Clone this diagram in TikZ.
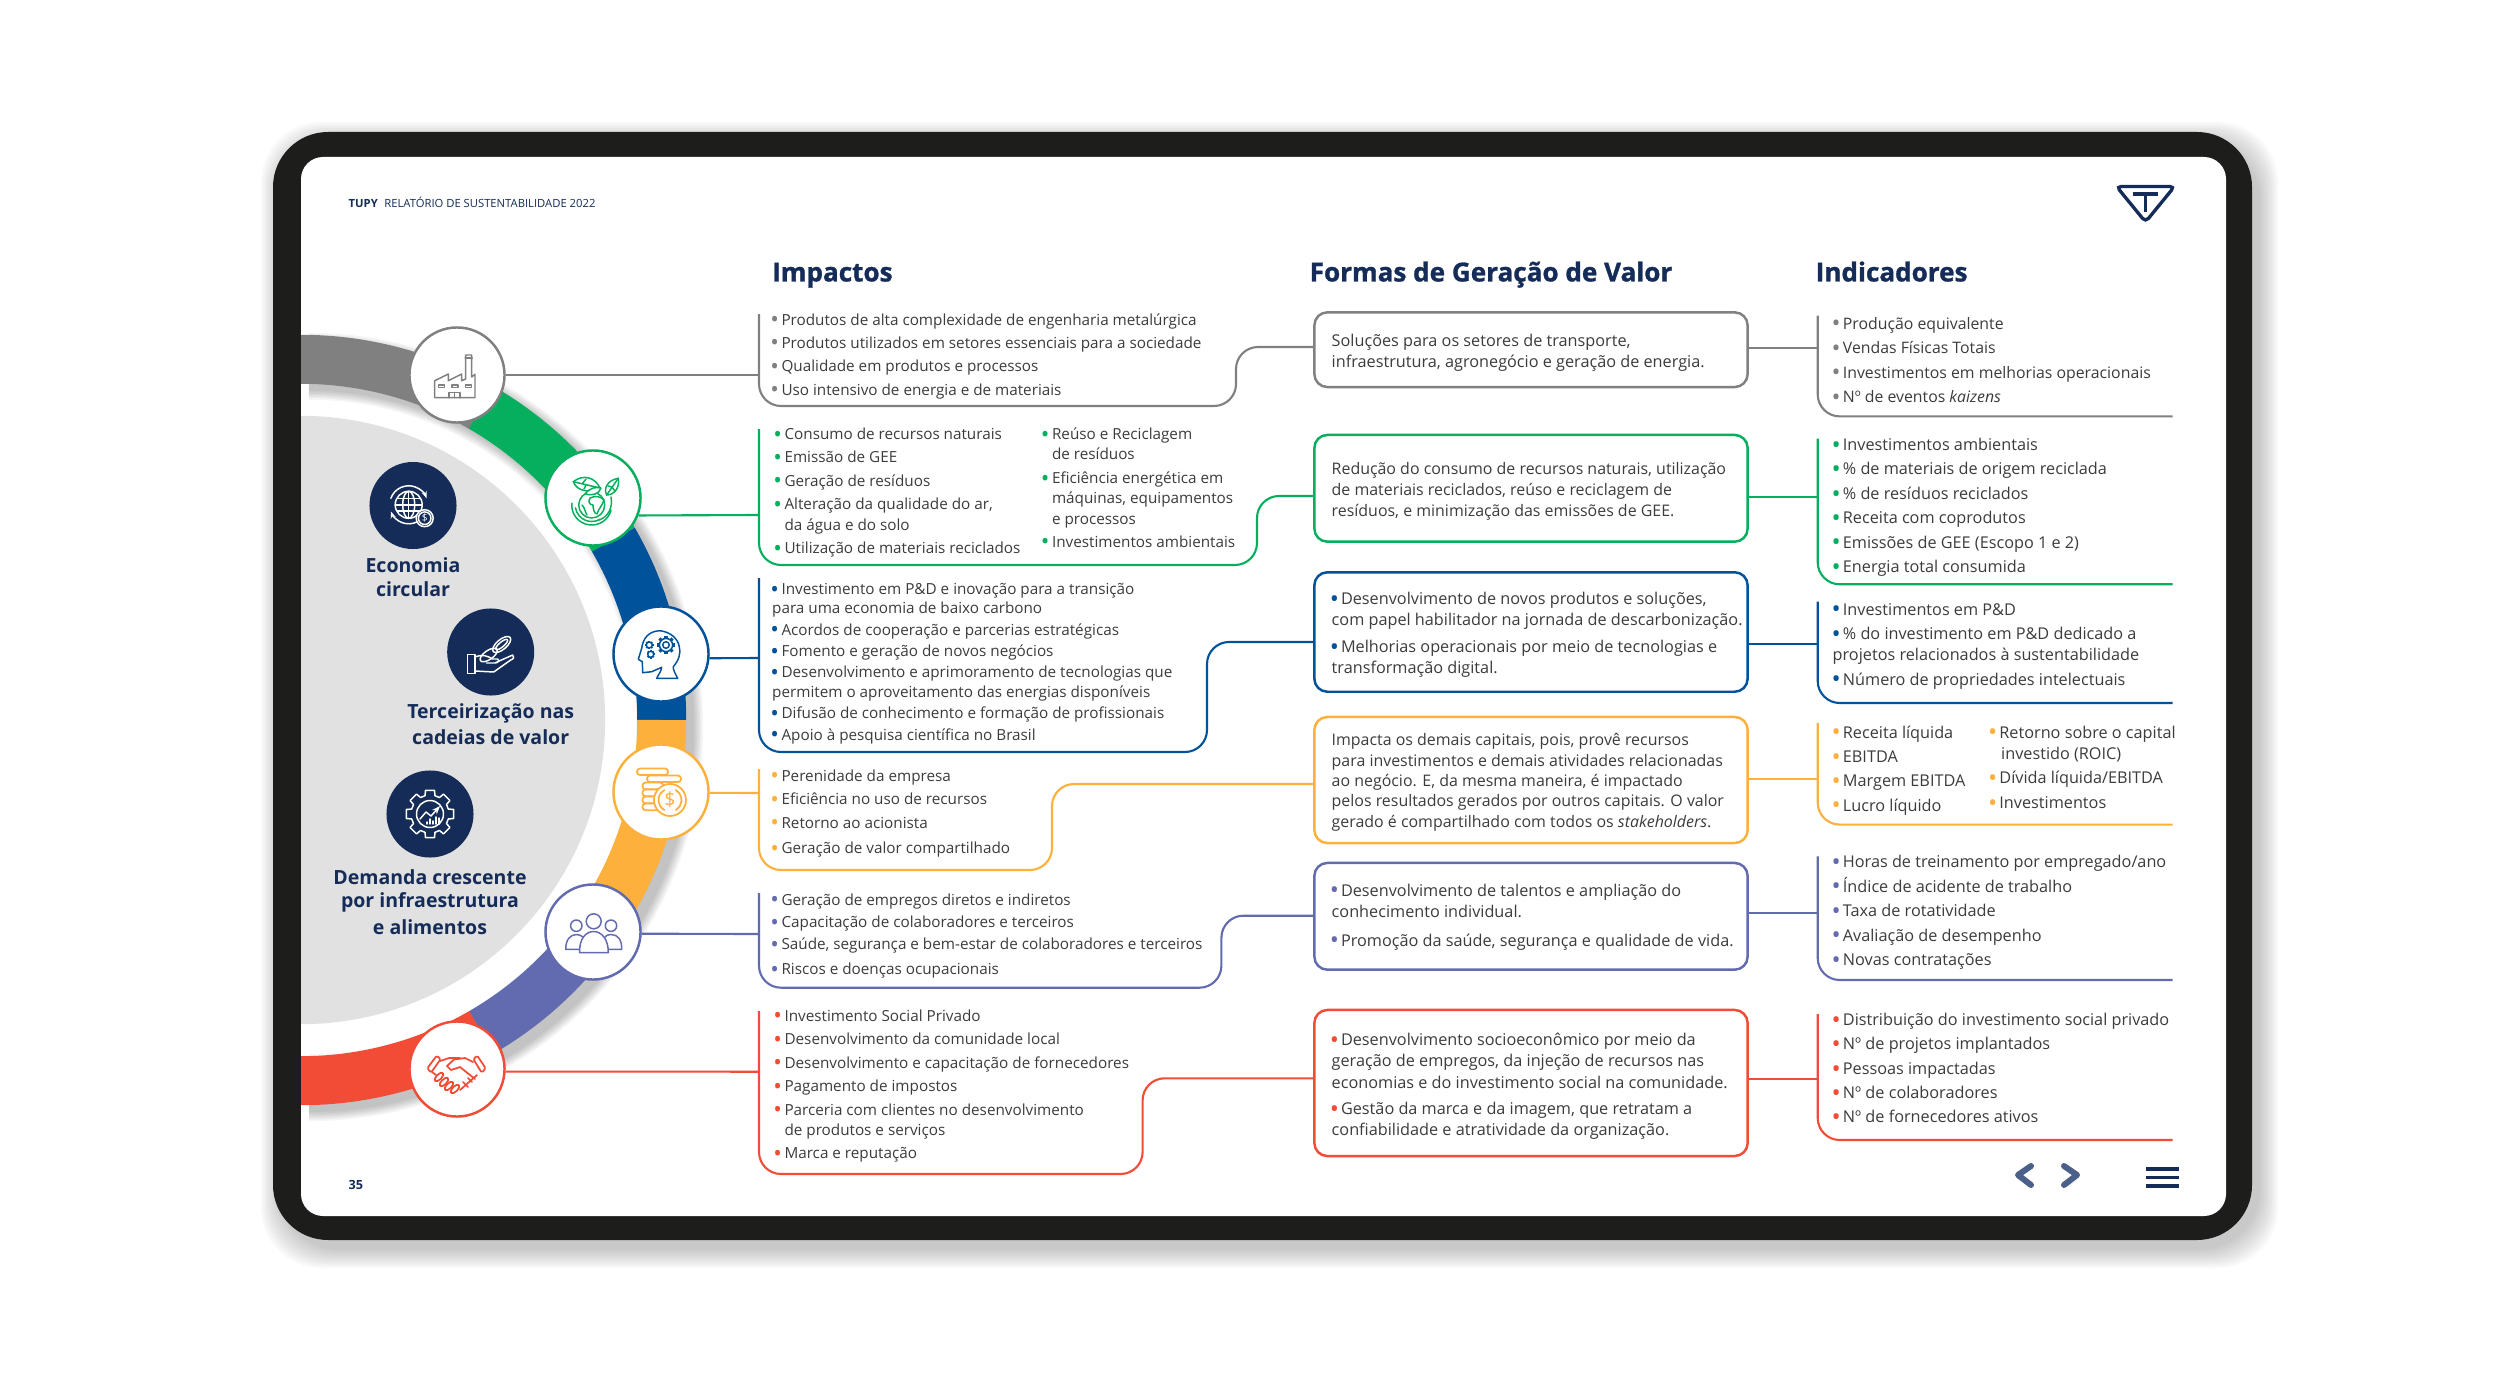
\documentclass[tikz,border=0pt]{standalone}
\usepackage{fontspec}
\setmainfont{Open Sans}
\newfontfamily\headfont[BoldFeatures={FakeBold=1.1}]{Open Sans}
\usetikzlibrary{arrows.meta, positioning, calc}

\newcommand{\bdot}{\textcolor{\rowcol}{\raisebox{-0.17em}{\scalebox{1.5}{•}}}}
\newcommand{\bl}{\makebox[2.65pt][l]{\hspace*{-0.55pt}\bdot}}
\newcommand{\bi}{\makebox[2.9pt][l]{\hspace*{-0.3pt}\bdot}}
\newcommand{\cog}[4]{%
  \begin{scope}[shift={(#1,#2)}]
    \draw circle[radius=#3];
    \foreach \a in {0,45,...,315} {
      \draw[line width=#4,line cap=butt] (\a:#3) -- (\a:#3*1.4);
    }
  \end{scope}}

\begin{document}
\begin{tikzpicture}[x=0.01cm,y=-0.01cm,>=Stealth,
  listline/.style={anchor=mid west, inner sep=0pt, text=bodytext, yshift=0.03cm},
  impline/.style={listline, font=\fontsize{4.34}{5}\selectfont},
  boxline/.style={listline, font=\fontsize{4.53}{5}\selectfont},
  boxwide/.style={listline, font=\fontsize{4.62}{5}\selectfont},
  indline/.style={listline, font=\fontsize{4.62}{5}\selectfont},
  indnarrow/.style={listline, font=\fontsize{4.5}{5}\selectfont},
  headline/.style={anchor=mid west, inner sep=0pt, text=navy, font=\fontsize{7.42}{9}\headfont\bfseries\selectfont},
  sidelabel/.style={inner sep=0pt, text=navy, font=\fontsize{5.55}{7}\bfseries\selectfont},
  iconring/.style={circle, fill=white, minimum size=0.95cm, inner sep=0pt, line width=0.7pt},
  navydisc/.style={circle, fill=navy, minimum size=0.87cm, inner sep=0pt},
  valuebox/.style={rectangle, fill=white, rounded corners=0.13cm, inner sep=0pt, line width=0.7pt},
  bracket/.style={rounded corners=0.22cm, line width=0.6pt},
  iconline/.style={line width=0.42pt, line join=round, line cap=round},
  navline/.style={line width=1.7pt, line cap=round, line join=round}
]

% Colors
\definecolor{navy}{RGB}{21,44,88}
\definecolor{bodytext}{RGB}{60,60,60}
\definecolor{framedark}{RGB}{29,29,27}
\definecolor{discgray}{RGB}{225,225,225}
\definecolor{rowgray}{RGB}{128,128,128}
\definecolor{rowgreen}{RGB}{5,175,93}
\definecolor{rowblue}{RGB}{0,82,155}
\definecolor{roworange}{RGB}{253,176,59}
\definecolor{rowpurple}{RGB}{99,107,176}
\definecolor{rowred}{RGB}{242,76,55}
\definecolor{navarrow}{RGB}{74,96,137}

\useasboundingbox (0,0) rectangle (2500,1373);

% Tablet frame
\foreach \g in {19,17,...,1} {
    \fill[black,opacity=0.022,rounded corners=0.6cm] (273+7-\g,132+9-\g) rectangle (2252+7+\g,1240+9+\g);
}
\fill[framedark,rounded corners=0.55cm] (273,132) rectangle (2252,1240);
\fill[white,rounded corners=0.22cm] (301,157) rectangle (2226,1216);

% Ring and disc
\coordinate (ringc) at (301,720);
\begin{scope}
\clip[rounded corners=0.22cm] (301,157) rectangle (2226,1216);
\foreach \g in {18,15,...,0} {
    \draw[black,opacity=0.035,line width=(49+\g)*0.2845pt] ($(ringc)+(8,7)$) ++(90:3.605cm) arc[start angle=90,end angle=-90,radius=3.605cm];
}
\foreach \c/\s/\e in {rowgray/90/60,rowgreen/60/30,rowblue/30/0,roworange/0/-30,rowpurple/-30/-60,rowred/-60/-90} {
    \draw[\c,line width=13.94pt] (ringc) ++(\s:3.605cm) arc[start angle=\s,end angle=\e,radius=3.605cm];
}
\fill[discgray] (ringc) circle[radius=3.04cm];
\end{scope}

% Icon rings
\node[iconring, draw=rowgray] (iconA) at (457,375) {};
\node[iconring, draw=rowgreen] (iconB) at (593,498) {};
\node[iconring, draw=rowblue] (iconC) at (661,654) {};
\node[iconring, draw=roworange] (iconD) at (661,792) {};
\node[iconring, draw=rowpurple] (iconE) at (593,932) {};
\node[iconring, draw=rowred] (iconF) at (457,1069) {};

% Side discs
\node[navydisc] (discA) at (413,505.5) {};
\node[navydisc] (discB) at (490.7,652) {};
\node[navydisc] (discC) at (430,814) {};
\node[sidelabel] (sideA1) at (413,565) {Economia};
\node[sidelabel] (sideA2) at (413,589) {circular};
\node[sidelabel] (sideB1) at (490.7,713) {Terceirização nas};
\node[sidelabel] (sideB2) at (490.7,737) {cadeias de valor};
\node[sidelabel] (sideC1) at (430,877) {Demanda crescente};
\node[sidelabel] (sideC2) at (430,902) {por infraestrutura};
\node[sidelabel] (sideC3) at (430,926.7) {e alimentos};

% Header and footer
\node[anchor=mid west,inner sep=0pt,text=navy,font=\fontsize{3.2}{4}\bfseries\selectfont] (brand) at (348,198.5) {TUPY};
\node[anchor=mid west,inner sep=0pt,text=navy,font=\fontsize{3.2}{4}\selectfont] (report) at (383.7,198.5) {RELATÓRIO DE SUSTENTABILIDADE 2022};
\node[anchor=mid west,inner sep=0pt,text=navy,font=\fontsize{3.6}{4}\bfseries\selectfont] (pagenum) at (348,1180) {35};
\node[headline] (headA) at (771.5,272) {Impactos};
\node[headline] (headB) at (1309,272) {Formas de Geração de Valor};
\node[headline] (headC) at (1815,272) {Indicadores};

% Logo and navigation
\draw[navy,line width=0.95pt,rounded corners=0.045cm] (2116.5,186.5) -- (2174.5,186.5) -- (2145.5,222) -- cycle;
\draw[navy,line width=0.95pt] (2132.7,194) -- (2158,194) (2145.3,194) -- (2145.3,212);
\draw[navarrow,navline] (2031,1166) -- (2018,1175) -- (2031,1185);
\draw[navarrow,navline] (2064,1166) -- (2077,1175) -- (2064,1185);
\foreach \y in {1169,1177.5,1186} {
    \draw[navy,line width=1pt] (2146,\y) -- (2179,\y);
}

% Value boxes
\node[valuebox, draw=rowgray, minimum width=4.33cm, minimum height=0.747cm] (boxA) at (1531,349.7) {};
\node[valuebox, draw=rowgreen, minimum width=4.33cm, minimum height=1.067cm] (boxB) at (1531,488.3) {};
\node[valuebox, draw=rowblue, minimum width=4.33cm, minimum height=1.194cm] (boxC) at (1531,632) {};
\node[valuebox, draw=roworange, minimum width=4.33cm, minimum height=1.26cm] (boxD) at (1531,780) {};
\node[valuebox, draw=rowpurple, minimum width=4.33cm, minimum height=1.067cm] (boxE) at (1531,916.3) {};
\node[valuebox, draw=rowred, minimum width=4.33cm, minimum height=1.46cm] (boxF) at (1531,1083) {};

% Junctions
\foreach \n/\y in {A/375,B/515,C/658,D/793,E/934,F/1071.7} {
    \coordinate (br\n) at (759,\y);
}
\foreach \n/\x/\y in {A/1236/347,B/1257/496,C/1207/642,D/1052/784,E/1221.4/915.7,F/1142.6/1078.3} {
    \coordinate (jog\n) at (\x,\y);
}
\foreach \n/\y in {A/348.3,B/496.7,C/644,D/779.3,E/913.3,F/1078.6} {
    \coordinate (ind\n) at (1817.7,\y);
}

% Connections: icon -> impacts
\draw[rowgray,bracket] (iconA.east) -- (brA);
\draw[rowgreen,bracket] (iconB.-21) -- (brB);
\draw[rowblue,bracket] (iconC.-5) -- (brC);
\draw[roworange,bracket] (iconD.-1) -- (brD);
\draw[rowpurple,bracket] (iconE.-2) -- (brE);
\draw[rowred,bracket] (iconF.-3) -- (brF);

% Connections: impacts -> boxes
\draw[rowgray,bracket] (759,314) -- (759,406) -- (1236,406) -- (jogA) -- (boxA.west |- jogA);
\draw[rowgreen,bracket] (759,429) -- (759,565) -- (1257,565) -- (jogB) -- (boxB.west |- jogB);
\draw[rowblue,bracket] (759,578) -- (759,752) -- (1207,752) -- (jogC) -- (boxC.west |- jogC);
\draw[roworange,bracket] (759,769) -- (759,870) -- (1052,870) -- (jogD) -- (boxD.west |- jogD);
\draw[rowpurple,bracket] (759,893) -- (759,987.7) -- (1221.4,987.7) -- (jogE) -- (boxE.west |- jogE);
\draw[rowred,bracket] (759,1011) -- (759,1174) -- (1142.6,1174) -- (jogF) -- (boxF.west |- jogF);

% Connections: boxes -> indicators
\foreach \n/\c in {A/rowgray,B/rowgreen,C/rowblue,D/roworange,E/rowpurple,F/rowred} {
    \draw[\c,bracket] (box\n.east |- ind\n) -- (ind\n);
}
\draw[rowgray,bracket] (1817.7,315.7) -- (1817.7,416.4) -- (2172.7,416.4);
\draw[rowgreen,bracket] (1817.7,438.6) -- (1817.7,584.3) -- (2172.7,584.3);
\draw[rowblue,bracket] (1817.7,601.7) -- (1817.7,703) -- (2172.7,703);
\draw[roworange,bracket] (1817.7,723) -- (1817.7,824.6) -- (2172.7,824.6);
\draw[rowpurple,bracket] (1817.7,856.4) -- (1817.7,980) -- (2172.7,980);
\draw[rowred,bracket] (1817.7,1014) -- (1817.7,1140) -- (2172.7,1140);

% Gray row
\def\rowcol{rowgray}
\foreach \i/\y/\t in {1/318.7/{Produtos de alta complexidade de engenharia metalúrgica},
    2/341.7/{Produtos utilizados em setores essenciais para a sociedade},
    3/365.3/{Qualidade em produtos e processos},
    4/388.7/{Uso intensivo de energia e de materiais}} {
    \node[impline] (impA\i) at (771.5,\y) {\bl\t};
}
\node[boxwide] (valA1) at (1331,340) {Soluções para os setores de transporte,};
\node[boxwide] (valA2) at (1331,361.3) {infraestrutura, agronegócio e geração de energia.};
\foreach \i/\y/\t in {1/322.8/{Produção equivalente},2/347.2/{Vendas Físicas Totais},
    3/371.6/{Investimentos em melhorias operacionais},4/396/{Nº de eventos \textit{kaizens}}} {
    \node[indnarrow] (indA\i) at (1832,\y) {\bi\t};
}

% Green row
\def\rowcol{rowgreen}
\foreach \i/\y/\t in {1/433/{\bl Consumo de recursos naturais},2/456.3/{\bl Emissão de GEE},
    3/479.7/{\bl Geração de resíduos},4/503.3/{\bl Alteração da qualidade do ar,},
    5/523.7/{\hspace{2.65pt}da água e do solo},6/547/{\bl Utilização de materiais reciclados}} {
    \node[impline] (impB\i) at (774.5,\y) {\t};
}
\foreach \i/\y/\t in {7/433/{\bl Reúso e Reciclagem},8/453.3/{\hspace{2.65pt}de resíduos},
    9/477/{\bl Eficiência energética em},10/497/{\hspace{2.65pt}máquinas, equipamentos},
    11/517.7/{\hspace{2.65pt}e processos},12/540.7/{\bl Investimentos ambientais}} {
    \node[impline] (impB\i) at (1042,\y) {\t};
}
\node[boxline] (valB1) at (1331,468) {Redução do consumo de recursos naturais, utilização};
\node[boxline] (valB2) at (1331,489.3) {de materiais reciclados, reúso e reciclagem de};
\node[boxline] (valB3) at (1331,510.3) {resíduos, e minimização das emissões de GEE.};
\foreach \i/\y/\t in {1/444/{Investimentos ambientais},2/468.5/{\% de materiais de origem reciclada},
    3/493/{\% de resíduos reciclados},4/517.4/{Receita com coprodutos},
    5/541.8/{Emissões de GEE (Escopo 1 e 2)},6/566.2/{Energia total consumida}} {
    \node[indline] (indB\i) at (1832,\y) {\bi\t};
}

% Blue row
\def\rowcol{rowblue}
\foreach \i/\y/\t in {1/588/{\bl Investimento em P\&D e inovação para a transição},
    2/607.3/{para uma economia de baixo carbono},
    3/628.7/{\bl Acordos de cooperação e parcerias estratégicas},
    4/650/{\bl Fomento e geração de novos negócios},
    5/671.3/{\bl Desenvolvimento e aprimoramento de tecnologias que},
    6/690.7/{permitem o aproveitamento das energias disponíveis},
    7/712.3/{\bl Difusão de conhecimento e formação de profissionais},
    8/733.7/{\bl Apoio à pesquisa científica no Brasil}} {
    \node[impline] (impC\i) at (771.5,\y) {\t};
}
\node[boxwide] (valC1) at (1331,598) {\bl Desenvolvimento de novos produtos e soluções,};
\node[boxwide] (valC2) at (1331,619.3) {com papel habilitador na jornada de descarbonização.};
\node[boxwide] (valC3) at (1331,646) {\bl Melhorias operacionais por meio de tecnologias e};
\node[boxwide] (valC4) at (1331,667) {transformação digital.};
\foreach \i/\y/\t in {1/608.7/{\bi Investimentos em P\&D},
    2/633.2/{\bi\% do investimento em P\&D dedicado a},
    3/654.2/{projetos relacionados à sustentabilidade},
    4/678.7/{\bi Número de propriedades intelectuais}} {
    \node[indline] (indC\i) at (1832,\y) {\t};
}

% Orange row
\def\rowcol{roworange}
\foreach \i/\y/\t in {1/774.7/{Perenidade da empresa},2/798/{Eficiência no uso de recursos},
    3/821.7/{Retorno ao acionista},4/847/{Geração de valor compartilhado}} {
    \node[impline] (impD\i) at (771.5,\y) {\bl\t};
}
\node[boxline] (valD1) at (1331,739.3) {Impacta os demais capitais, pois, provê recursos};
\node[boxline] (valD2) at (1331,759.7) {para investimentos e demais atividades relacionadas};
\node[boxline] (valD3) at (1331,780) {ao negócio. E, da mesma maneira, é impactado};
\node[boxline] (valD4) at (1331,800.3) {pelos resultados gerados por outros capitais. O valor};
\node[boxline] (valD5) at (1331,820.7) {gerado é compartilhado com todos os \textit{stakeholders}.};
\foreach \i/\y/\t in {1/731.8/{Receita líquida},2/756/{EBITDA},3/780.4/{Margem EBITDA},4/804.6/{Lucro líquido}} {
    \node[indline] (indD\i) at (1832,\y) {\bi\t};
}
\foreach \i/\y/\t in {5/731.8/{\bi Retorno sobre o capital},
    6/753.2/{\hspace{3.4pt}investido (ROIC)},
    7/777.5/{\bi Dívida líquida/EBITDA},
    8/802/{\bi Investimentos}} {
    \node[indline] (indD\i) at (1988.5,\y) {\t};
}

% Purple row
\def\rowcol{rowpurple}
\foreach \i/\y/\t in {1/898.7/{Geração de empregos diretos e indiretos},2/921/{Capacitação de colaboradores e terceiros},
    3/943.3/{Saúde, segurança e bem-estar de colaboradores e terceiros},4/968/{Riscos e doenças ocupacionais}} {
    \node[impline] (impE\i) at (771.5,\y) {\bl\t};
}
\node[boxwide] (valE1) at (1331,889.7) {\bl Desenvolvimento de talentos e ampliação do};
\node[boxwide] (valE2) at (1331,911) {conhecimento individual.};
\node[boxwide] (valE3) at (1331,939.7) {\bl Promoção da saúde, segurança e qualidade de vida.};
\foreach \i/\y/\t in {1/861.4/{Horas de treinamento por empregado/ano},2/885.7/{Índice de acidente de trabalho},
    3/910/{Taxa de rotatividade},4/934.6/{Avaliação de desempenho},5/959/{Novas contratações}} {
    \node[indline] (indE\i) at (1832,\y) {\bi\t};
}

% Red row
\def\rowcol{rowred}
\foreach \i/\y/\t in {1/1014.7/{\bl Investimento Social Privado},2/1038/{\bl Desenvolvimento da comunidade local},
    3/1061.7/{\bl Desenvolvimento e capacitação de fornecedores},4/1085/{\bl Pagamento de impostos},
    5/1108.7/{\bl Parceria com clientes no desenvolvimento},6/1128.7/{\hspace{2.65pt}de produtos e serviços},
    7/1152.3/{\bl Marca e reputação}} {
    \node[impline] (impF\i) at (774.5,\y) {\t};
}
\node[boxwide] (valF1) at (1331,1039) {\bl Desenvolvimento socioeconômico por meio da};
\node[boxwide] (valF2) at (1331,1060.3) {geração de empregos, da injeção de recursos nas};
\node[boxwide] (valF3) at (1331,1081.7) {economias e do investimento social na comunidade.};
\node[boxwide] (valF4) at (1331,1108) {\bl Gestão da marca e da imagem, que retratam a};
\node[boxwide] (valF5) at (1331,1129.3) {confiabilidade e atratividade da organização.};
\foreach \i/\y/\t in {1/1019/{Distribuição do investimento social privado},2/1043.2/{Nº de projetos implantados},
    3/1067.9/{Pessoas impactadas},4/1092.1/{Nº de colaboradores},5/1116.4/{Nº de fornecedores ativos}} {
    \node[indline] (indF\i) at (1832,\y) {\bi\t};
}

% Factory icon
\begin{scope}[shift={(iconA.center)},rowgray,iconline]
\draw (-22.3,5.7) -- (-8.7,-1) -- (-8.7,5.7) -- (4.7,-1) -- (4.7,5.7) -- (8.7,4) -- (8.7,-20) -- (14.7,-20) -- (14.7,2) -- (18,-0.7) -- (18,22.7) -- (-22.3,22.7) -- cycle;
\draw (8.2,-17) -- (15.2,-17);
\foreach \x in {-18.7,-5,8.3} {
    \draw (\x,10) rectangle (\x+6,12.6);
}
\draw (-8,22.7) -- (-8,17.7) -- (3,17.7) -- (3,22.7) (-2.5,17.7) -- (-2.5,22.7);
\end{scope}

% Globe icon
\begin{scope}[shift={(iconB.center)},rowgreen,iconline]
\draw (-1.3,7) circle[radius=13];
\draw (-1.3,7) ++(175:0.2cm) arc[start angle=175,end angle=345,radius=0.2cm];
\draw (-1.3,7) ++(190:0.165cm) arc[start angle=190,end angle=300,radius=0.165cm];
\draw (6,22) .. controls (15,19) and (20,10) .. (18,-1);
\draw[fill=white] (-19.7,-16.3) .. controls (-10,-24) and (2,-21) .. (7,-10) .. controls (-2,-5) and (-16,-6) .. cycle;
\draw (-19.7,-16.3) -- (7,-10) (-11,-14) -- (-7,-19) (-7,-13) -- (-9,-9);
\draw[fill=white] (-8,-4) .. controls (-2,-11) and (3,-11) .. (8,-10) .. controls (6,-4) and (0,-2) .. cycle;
\draw[fill=white] (25.3,-19.7) .. controls (15,-18) and (10,-10) .. (13.7,-3) .. controls (21,-3) and (27,-10) .. cycle;
\draw (25.3,-19.7) -- (13.7,-3) (19,-11) -- (15,-12) (19,-11) -- (22,-7);
\draw (-3,0) .. controls (2,-3) and (9,-1) .. (11,2) .. controls (9,8) and (6,10) .. (4,16) .. controls (1,16) and (0,10) .. (0,7) .. controls (-4,7) and (-5,3) .. cycle;
\draw (-11,7) .. controls (-8,10) and (-8,14) .. (-6,17);
\end{scope}

% Head icon
\begin{scope}[shift={(iconC.center)},rowblue,iconline]
\draw (16.7,24.3) .. controls (14,19) and (12,16) .. (12.3,12.7) .. controls (18,6) and (20,-1) .. (18.3,-7.3) .. controls (17,-15) and (10,-22) .. (-1,-23.3) .. controls (-12,-23) and (-18,-16) .. (-19.3,-5.7) -- (-22.7,5.3) -- (-18.7,7.7) -- (-18.3,18.7) -- (-9.3,17.7) -- (0.7,13.3) .. controls (0,18) and (-3,21) .. (-4.3,24.3) -- cycle;
\cog{5}{-9}{6.6}{0.9pt}
\draw (5,-9) circle[radius=3.3];
\cog{-11.7}{-9}{3}{0.6pt}
\cog{-10.3}{0.3}{3}{0.6pt}
\end{scope}

% Coins icon
\begin{scope}[shift={(iconD.center)},roworange,iconline,line width=0.5pt,rounded corners=0.03cm]
\draw (-24,-23.5) rectangle (7,-17);
\draw (-14,-16.5) rectangle (20,-10);
\foreach \y in {-9.5,-2.5,4.5,11.5} {
    \draw (-18.5,\y) rectangle (2,\y+6.8);
}
\draw[fill=white] (9,8) circle[radius=16];
\draw (9,8) ++(120:0.115cm) arc[start angle=120,end angle=240,radius=0.115cm];
\draw (9,8) ++(60:0.115cm) arc[start angle=60,end angle=-60,radius=0.115cm];
\node[inner sep=0pt,text=roworange,font=\fontsize{5.5}{6}\selectfont] (coinD) at (9,8) {\$};
\end{scope}

% People icon
\begin{scope}[shift={(iconE.center)},rowpurple,iconline]
\draw (0.7,-10.7) circle[radius=7.5];
\draw (-16.7,-6.3) circle[radius=5.7];
\draw (18,-6.3) circle[radius=5.7];
\draw (-13.5,17.3) -- (-27.3,17.3) .. controls (-27.3,8) and (-23,2.5) .. (-16.5,2.5) .. controls (-14,2.5) and (-12,3.5) .. (-10,5);
\draw (15,17.3) -- (28.7,17.3) .. controls (29,8) and (25,2.5) .. (18,2.5) .. controls (15,2.5) and (13,3.5) .. (12,5);
\draw[fill=white] (-13.3,20.7) .. controls (-14,8) and (-8,-0.5) .. (0.7,-0.5) .. controls (9,-0.5) and (15.5,8) .. (15.3,20.7) -- cycle;
\end{scope}

% Handshake icon
\begin{scope}[shift={(iconF.center)},rowred,iconline,line width=0.5pt]
\draw[rounded corners=0.015cm] (-29.7,-0.7) -- (-20.3,-13.3) -- (-16.3,-10) -- (-26,3.7) -- cycle;
\draw[rounded corners=0.015cm] (16.3,-10) -- (20.3,-13.3) -- (28.7,-0.7) -- (24.7,3.7) -- cycle;
\draw (-17,-8) -- (-8,-11) -- (3,-11);
\draw (16,-7) -- (8,-11) -- (-3,-9.5) -- (-10,-3) -- (-6,1) -- (3,-2) -- (18,10);
\draw (-25,3) -- (-21,6);
\foreach \fx/\fy in {-18/8,-13/13,-8/17,-2/20} {
    \draw[rotate around={45:(\fx,\fy)}] (\fx,\fy) ellipse[x radius=5.5,y radius=2.6];
}
\draw (3,21) -- (20,6) (6,13) -- (11,18) (11,9) -- (15,13);
\end{scope}

% Disc icons
\begin{scope}[shift={(discA.center)},white,iconline]
\draw (-4.3,-0.7) circle[radius=13.5];
\draw (-4.3,-0.7) ellipse[x radius=6,y radius=13.5];
\draw (-4.3,-14.2) -- (-4.3,12.8) (-17.8,-0.7) -- (9.2,-0.7) (-16,-7) -- (7.4,-7) (-16,5.6) -- (7.4,5.6);
\draw[-{Stealth[length=2pt]}] (-4.3,-0.7) ++(160:0.19cm) arc[start angle=160,end angle=20,radius=0.19cm];
\draw[-{Stealth[length=2pt]}] (-4.3,-0.7) ++(-30:0.19cm) arc[start angle=-30,end angle=-160,radius=0.19cm];
\draw[fill=navy] (11.7,12.7) circle[radius=8.5];
\draw (11.7,12.7) circle[radius=6.3];
\node[inner sep=0pt,text=white,font=\fontsize{2.9}{3}\selectfont] (coinA) at (11.7,12.7) {\$};
\end{scope}
\begin{scope}[shift={(discB.center)},white,iconline]
\draw (-23.3,2.3) rectangle (-15.7,21.7);
\draw (-15.7,5) .. controls (-8,2) and (-3,4) .. (2,7) -- (7,7) .. controls (9,9) and (7,11) .. (4,11) -- (-4,11) (4,11) -- (22,3) .. controls (24,5) and (23,7) .. (20,8) -- (3,20) -- (-15.7,19);
\draw[rotate around={40:(11,-7.5)}] (11,-7.5) ellipse[x radius=11,y radius=5];
\draw[rotate around={40:(11,-7.5)}] (11,-7.5) ellipse[x radius=7.5,y radius=2.4];
\draw[rotate around={35:(-2,3)}] (-2,3) ellipse[x radius=10,y radius=4.5];
\end{scope}
\begin{scope}[shift={(discC.center)},white,iconline]
\draw (-11:24) \foreach \a in {0,45,...,315} { -- (\a-11:24) -- (\a+11:24) -- (\a+15:19) -- (\a+30:19) } -- cycle;
\draw (0,0) circle[radius=13.5];
\draw[-{Stealth[length=2.4pt]}] (-10,5) -- (-4,-2) -- (1,2) -- (10,-8);
\foreach \x/\t in {-3/5,0/2,3/4,6/0,9/1} {
    \draw (\x,10) -- (\x,\t+3);
}
\end{scope}

\end{tikzpicture}
\end{document}
